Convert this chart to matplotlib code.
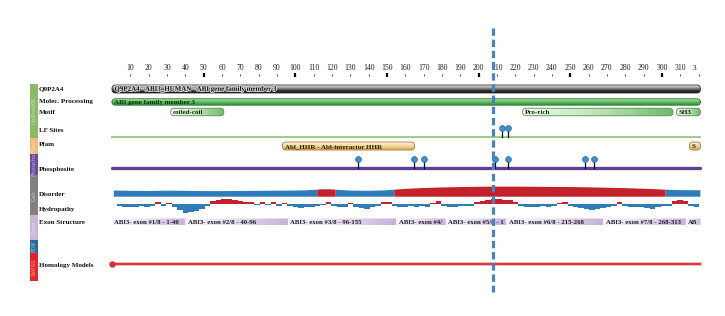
import matplotlib
matplotlib.use("Agg")
import matplotlib.pyplot as plt
import numpy as np
from matplotlib.patches import FancyBboxPatch, Rectangle, PathPatch
from matplotlib.colors import LinearSegmentedColormap, to_rgb
from matplotlib.transforms import Bbox, Affine2D
from matplotlib.textpath import TextPath
from matplotlib.font_manager import FontProperties
import matplotlib.patheffects as pe

# ---------------- data ----------------
ruler_ticks = list(range(10, 330, 10))
protein_length = 366
view_end = 321
highlight_residue = 208

track_labels = ["Q9P2A4", "Molec. Processing", "Motif", "LF Sites", "Pfam",
                "Phosphosite", "Disorder", "Hydropathy", "Exon Structure",
                "Homology Models"]
source_names = ["UniProtKB", "Pfam", "Phospho", "Calc", "Exon", "PDB", "SWISS"]
source_colors = ["#8cb86a", "#f7b878", "#6a4a9e", "#808080", "#c8b6da", "#2d6a9a", "#e0262c"]

protein_title = "Q9P2A4 - ABI3_HUMAN - ABI gene family member 3"
chain_name = "ABI gene family member 3"
chain_start, chain_end = 1, 366

motif_names = ["coiled-coil", "Pro-rich", "SH3"]
motif_start = [32, 224, 308]
motif_end = [61, 306, 366]

lf_sites = [213, 216]

pfam_names = ["Abl_HHR - Abl-interactor HHR", "SH3_1 - SH3 domain"]
pfam_start = [93, 315]
pfam_end = [165, 366]

phospho_sites = [134, 165, 170, 209, 216, 258, 263]

disorder_pos = [1, 10, 20, 30, 40, 50, 60, 70, 80, 90, 100, 106, 112, 115, 119,
                122, 130, 140, 148, 154, 160, 170, 180, 190, 200, 210, 220, 230,
                240, 250, 260, 270, 280, 290, 296, 302, 310, 321]
disorder_score = [0.44, 0.42, 0.41, 0.43, 0.42, 0.40, 0.40, 0.41, 0.42, 0.43, 0.44,
                  0.46, 0.50, 0.53, 0.53, 0.50, 0.44, 0.42, 0.45, 0.50, 0.56, 0.62,
                  0.66, 0.69, 0.71, 0.72, 0.72, 0.71, 0.70, 0.69, 0.67, 0.64, 0.61,
                  0.57, 0.54, 0.50, 0.47, 0.46]

hydro_pos = list(range(1, 320, 3))
hydro_score = [0.5, -2, -3, -2.5, -3, -2, -2.5, -1.5, 2, -2,
               1.5, -3, -6, -9, -8, -7, -5, -2, 3, 4,
               5, 5, 4, 3, 2, 2.5, -1, 2, -1, 2,
               -1.5, 1.5, -2, -3, -4, -2.5, -3, -2, -1, 2,
               -2, -3, -2.5, 1.5, -3, -4, -5, -3, -2, 2,
               2, -2, -2.5, -3, -2, -3, -2, -2.5, 1, 3,
               -2, -2.5, -3, -2, -2, -1.5, 2, 3, 4, 5.5,
               5, 4, 4, 2, -2, -3, -2.5, -3, -2, -3,
               -2, 1.5, 2, -2, -3, -4, -5, -6, -5, -4,
               -3, -2, 2, -2, -3, -2.5, -3, -4, -5, -3,
               -2, -2, 3, 4, 3.5, -2, -3]

exon_start = [1, 40, 96, 155, 182, 215, 268, 313]
exon_end = [40, 96, 155, 182, 215, 268, 313, 366]
exon_names = ["ABI3- exon #1/8 - 1-40", "ABI3- exon #2/8 - 40-96",
              "ABI3- exon #3/8 - 96-155", "ABI3- exon #4/8 - 155-182",
              "ABI3- exon #5/8 - 182-215", "ABI3- exon #6/8 - 215-268",
              "ABI3- exon #7/8 - 268-313", "ABI3- exon #8/8 - 313-366"]

homology_start, homology_end = 1, 366

# ---------------- layout ----------------
W, H = 725, 316
PX0 = 112.0      # pixel of residue 0
PXR = 1.833      # pixels per residue
SERIF = ["Liberation Serif", "DejaVu Serif"]

def Y(top_px):
    return H - top_px

label_y = [88.5, 102, 112.5, 131, 145, 169, 195, 209, 223, 265]
source_spans = [(84, 138), (138, 154), (154, 175), (175, 215), (215, 240), (240, 253), (253, 281)]

fig = plt.figure(figsize=(W / 100, H / 100), dpi=100)
ax = fig.add_axes([0, 0, 1, 1])
XL = (-PX0 / PXR, (W - PX0) / PXR)
ax.set_xlim(*XL)
ax.set_ylim(0, H)
ax.axis("off")
renderer = fig.canvas.get_renderer()

def vend(e):
    return min(e, view_end)

def fit_text(t, max_px):
    s = t.get_text()
    while s and t.get_window_extent(renderer).width > max_px:
        s = s[:-1]
        t.set_text(s)
    t.set_text(s.rstrip())

def grad_bar(x0, x1, yc, h, stops, vertical=True, edge=None, radius_px=3.5,
             text=None, fontsize=5, tcolor="#111111", halo=None, lw=0.6, z=3,
             margin=4):
    cmap = LinearSegmentedColormap.from_list("g", stops)
    n = 64
    arr = np.linspace(0, 1, n).reshape(n, 1) if vertical else np.linspace(0, 1, n).reshape(1, n)
    yb = Y(yc) - h / 2
    im = ax.imshow(arr, cmap=cmap, extent=(x0, x1, yb, yb + h), origin="upper",
                   aspect="auto", interpolation="bilinear", zorder=z)
    r = radius_px / PXR
    patch = FancyBboxPatch((x0, yb), x1 - x0, h,
                           boxstyle=f"round,pad=0,rounding_size={r}",
                           mutation_aspect=PXR, fc="none",
                           ec=edge if edge else "none", lw=lw, zorder=z + 0.5)
    ax.add_patch(patch)
    im.set_clip_path(patch)
    if text:
        t = ax.text(x0 + 2.5 / PXR, Y(yc) - 0.3, text, ha="left", va="center",
                    fontsize=fontsize, color=tcolor, family=SERIF,
                    fontweight="bold", zorder=z + 1)
        if halo:
            t.set_path_effects([pe.withStroke(linewidth=1.2, foreground=halo)])
        fit_text(t, (x1 - x0) * PXR - margin)

# ---- left source strips
for name, col, (a, b) in zip(source_names, source_colors, source_spans):
    fig.add_artist(Rectangle((30 / W, 1 - b / H), 8 / W, (b - a) / H,
                             transform=fig.transFigure, color=col, lw=0))
    tint = tuple(0.45 * np.array(to_rgb(col)) + 0.55)
    fig.text(34 / W, 1 - (a + b) / 2 / H, name, rotation=90, ha="center",
             va="center", fontsize=4.0, color=tint, family=["DejaVu Sans"])

# ---- track labels
for lab, y in zip(track_labels, label_y):
    fig.text(39 / W, 1 - y / H, lab, ha="left", va="center", fontsize=5.0,
             fontweight="bold", color="#111111", family=SERIF)

# ---- ruler
fp = FontProperties(family=SERIF, size=5.6)
for t in ruler_ticks:
    cx, cy = ax.transData.transform((t, Y(67.5)))
    if cx + 6 < 698:
        ax.text(t, Y(67.5), str(t), ha="center", va="center", fontsize=5.6,
                color="#222222", family=SERIF)
    else:
        tp = TextPath((0, 0), str(t), size=5.6 * 100 / 72, prop=fp)
        ext = tp.get_extents()
        tr = Affine2D().translate(cx - (ext.x0 + ext.x1) / 2, cy - (ext.y0 + ext.y1) / 2)
        pp = PathPatch(tp, transform=tr, fc="#222222", lw=0)
        ax.add_patch(pp)
        pp.set_clip_path(None)
        pp.set_clip_box(Bbox.from_extents(0, 0, 697, H))
        pp.set_clip_on(True)
    if t > view_end:
        continue
    if t % 50 == 0:
        ax.plot([t, t], [Y(76.5), Y(72.5)], color="black", lw=1.6, solid_capstyle="butt")
    else:
        ax.plot([t, t], [Y(75.5), Y(73.5)], color="#333333", lw=0.6, solid_capstyle="butt")

# ---- protein bar
grad_bar(chain_start - 1, vend(protein_length), 89, 8,
         ["#e8e8e8", "#a0a0a0", "#3a3a3a", "#0a0a0a"], edge="#333333",
         text=protein_title, fontsize=5.0, tcolor="#111111", halo="#d8d8d8")
# ---- molecule processing
grad_bar(chain_start - 1, vend(chain_end), 102, 6.5,
         ["#c8ecc0", "#6cc06c", "#2e8f3a"], edge="#2a7a2a",
         text=chain_name, fontsize=5.0, tcolor="#0c2a0c")
# ---- motifs
for nm, s, e in zip(motif_names, motif_start, motif_end):
    grad_bar(s, vend(e), 112, 7.5, ["#f2faee", "#bfe3b4", "#6dbb6d"], vertical=False,
             edge="#4f8f4f", text=nm, fontsize=5.0, tcolor="#102a10")

# ---- LF sites
ax.plot([0, view_end], [Y(137), Y(137)], color="#9ccb86", lw=1.4, zorder=2)
for s in lf_sites:
    ax.plot([s, s], [Y(137), Y(127.5)], color="black", lw=0.9, zorder=3)
    ax.plot([s], [Y(127.5)], marker="o", ms=4.2, mfc="#3f90c8", mec="#2a6a9a",
            mew=0.5, zorder=4)

# ---- Pfam
for nm, s, e in zip(pfam_names, pfam_start, pfam_end):
    grad_bar(s, vend(e), 146, 8, ["#fff4dc", "#f3d49a", "#d9a851"], edge="#a37a30",
             text=nm, fontsize=5.0, tcolor="#2a1a00", margin=2)

# ---- phosphosites
ax.plot([0, view_end], [Y(168.3), Y(168.3)], color="#5d4294", lw=2.4,
        solid_capstyle="round", zorder=2)
for s in phospho_sites:
    ax.plot([s, s], [Y(168.3), Y(158.5)], color="black", lw=0.9, zorder=3)
    ax.plot([s], [Y(158.5)], marker="o", ms=4.2, mfc="#3f90c8", mec="#2a6a9a",
            mew=0.5, zorder=4)

# ---- disorder
dpos = np.array(disorder_pos, dtype=float)
dsc = np.array(disorder_score)
base = Y(196.7)
top = base + 14 * dsc
ax.fill_between(dpos, base, top, where=dsc <= 0.5, color="#2f7db8", lw=0, zorder=2)
ax.fill_between(dpos, base, top, where=dsc >= 0.5, color="#c4222a", lw=0, zorder=2)

# ---- hydropathy
hs = np.array(hydro_score)
hcol = np.where(hs > 0, "#c4222a", "#2f7db8")
ax.bar(hydro_pos, hs, width=3, bottom=Y(204), color=hcol, lw=0, zorder=2)

# ---- exon structure
for nm, s, e in zip(exon_names, exon_start, exon_end):
    x0 = s - 1 if s == 1 else s
    grad_bar(x0, vend(e), 222, 7, ["#f7f3fa", "#e6dcef", "#c5b2d8"], vertical=False,
             edge=None, radius_px=0.5, text=nm, fontsize=4.9, tcolor="#1a1a2a",
             margin=3)

# ---- homology models
ax.plot([homology_start - 1, vend(homology_end)], [Y(264), Y(264)], color="#f2b4b4",
        lw=2.8, zorder=2)
ax.plot([homology_start - 1, vend(homology_end)], [Y(264), Y(264)], color="#d42f35",
        lw=1.3, zorder=3)
ax.plot([homology_start - 1], [Y(264)], marker="o", ms=3.6, mfc="#d42f35",
        mec="#d42f35", zorder=4)

# ---- highlighted residue
ax.plot([highlight_residue, highlight_residue], [Y(28), Y(292)], color="#4d80c0",
        lw=2.3, ls=(0, (2.3, 1.2)), zorder=6)

ax.set_xlim(*XL)
ax.set_ylim(0, H)
fig.savefig("out.png", dpi=100)
